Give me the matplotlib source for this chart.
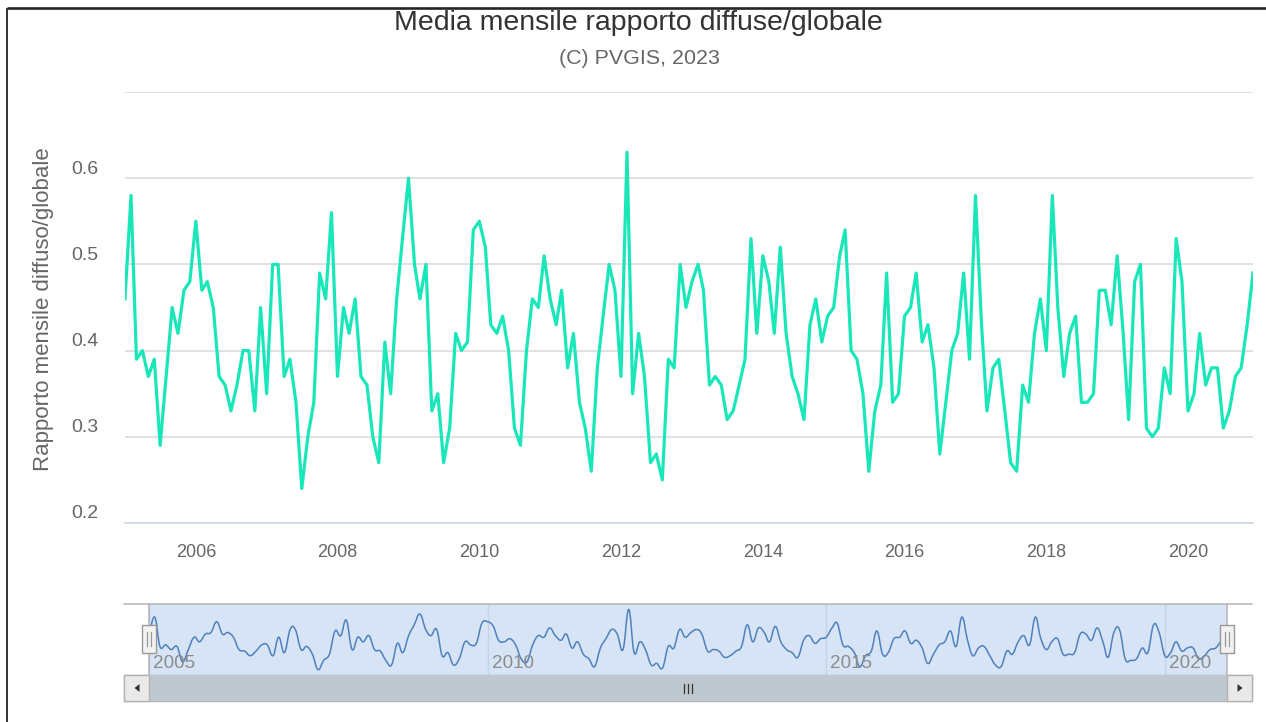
import numpy as np
import pandas as pd
import matplotlib
matplotlib.use("Agg")
import matplotlib.pyplot as plt
import matplotlib.dates as mdates
from matplotlib.path import Path
from matplotlib.patches import PathPatch, Rectangle, Polygon
from matplotlib.transforms import offset_copy, blended_transform_factory

plt.rcParams['font.family'] = ['Liberation Sans', 'DejaVu Sans']

# dati mensili 2005-01 .. 2020-12 (rapporto diffusa/globale)
anni = list(range(2005, 2021))
rapporto = [
    0.46, 0.58, 0.39, 0.40, 0.37, 0.39, 0.29, 0.37, 0.45, 0.42, 0.47, 0.48,  # 2005
    0.55, 0.47, 0.48, 0.45, 0.37, 0.36, 0.33, 0.36, 0.40, 0.40, 0.33, 0.45,  # 2006
    0.35, 0.50, 0.50, 0.37, 0.39, 0.34, 0.24, 0.30, 0.34, 0.49, 0.46, 0.56,  # 2007
    0.37, 0.45, 0.42, 0.46, 0.37, 0.36, 0.30, 0.27, 0.41, 0.35, 0.46, 0.53,  # 2008
    0.60, 0.50, 0.46, 0.50, 0.33, 0.35, 0.27, 0.31, 0.42, 0.40, 0.41, 0.54,  # 2009
    0.55, 0.52, 0.43, 0.42, 0.44, 0.40, 0.31, 0.29, 0.40, 0.46, 0.45, 0.51,  # 2010
    0.46, 0.43, 0.47, 0.38, 0.42, 0.34, 0.31, 0.26, 0.38, 0.44, 0.50, 0.47,  # 2011
    0.37, 0.63, 0.35, 0.42, 0.37, 0.27, 0.28, 0.25, 0.39, 0.38, 0.50, 0.45,  # 2012
    0.48, 0.50, 0.47, 0.36, 0.37, 0.36, 0.32, 0.33, 0.36, 0.39, 0.53, 0.42,  # 2013
    0.51, 0.48, 0.42, 0.52, 0.42, 0.37, 0.35, 0.32, 0.43, 0.46, 0.41, 0.44,  # 2014
    0.45, 0.51, 0.54, 0.40, 0.39, 0.35, 0.26, 0.33, 0.36, 0.49, 0.34, 0.35,  # 2015
    0.44, 0.45, 0.49, 0.41, 0.43, 0.38, 0.28, 0.34, 0.40, 0.42, 0.49, 0.39,  # 2016
    0.58, 0.43, 0.33, 0.38, 0.39, 0.33, 0.27, 0.26, 0.36, 0.34, 0.42, 0.46,  # 2017
    0.40, 0.58, 0.45, 0.37, 0.42, 0.44, 0.34, 0.34, 0.35, 0.47, 0.47, 0.43,  # 2018
    0.51, 0.42, 0.32, 0.48, 0.50, 0.31, 0.30, 0.31, 0.38, 0.35, 0.53, 0.48,  # 2019
    0.33, 0.35, 0.42, 0.36, 0.38, 0.38, 0.31, 0.33, 0.37, 0.38, 0.43, 0.49,  # 2020
]
date = pd.date_range('2005-01-01', periods=len(rapporto), freq='MS')

y_ticks = [0.2, 0.3, 0.4, 0.5, 0.6, 0.7]
y_labels = ['0.2', '0.3', '0.4', '0.5', '0.6']
x_tick_years = [2006, 2008, 2010, 2012, 2014, 2016, 2018, 2020]
nav_years = [2005, 2010, 2015, 2020]

titolo = 'Media mensile rapporto diffuse/globale'
sottotitolo = '(C) PVGIS, 2023'
y_titolo = 'Rapporto mensile diffuso/globale'

W, H = 1266, 722
fig = plt.figure(figsize=(W / 100, H / 100), dpi=100)


def box(x0, y0, x1, y1):
    return [x0 / W, 1 - y1 / H, (x1 - x0) / W, (y1 - y0) / H]


# grafico principale
ax = fig.add_axes(box(125, 92, 1253, 523))
ax.plot(date, rapporto, color='#19e7b9', lw=2.3, solid_joinstyle='round', zorder=3)
ax.set_xlim(date[0], date[-1])
ax.set_ylim(0.2, 0.7)
ax.set_yticks(y_ticks)
ax.yaxis.grid(True, color='#d9d9d9', lw=1.1)
ax.tick_params(axis='y', left=False, labelleft=False)
for s in ['top', 'right', 'left']:
    ax.spines[s].set_visible(False)
ax.spines['bottom'].set_color('#ccd6eb')
ax.spines['bottom'].set_linewidth(1.1)
ax.spines['bottom'].set_zorder(4)

tr = offset_copy(ax.get_yaxis_transform(), fig=fig, x=-27, y=9, units='dots')
for v, lab in zip(y_ticks, y_labels):
    ax.text(0, v, lab, transform=tr, ha='right', va='center', fontsize=14, color='#666666')

ax.set_xticks(pd.to_datetime([f'{a}-01-01' for a in x_tick_years]))
ax.set_xticklabels([str(a) for a in x_tick_years])
ax.tick_params(axis='x', length=0, pad=15, labelsize=13, labelcolor='#666666')

fig.text(638 / W, 1 - 23 / H, titolo, ha='center', va='center', fontsize=20.5, color='#333333')
fig.text(639 / W, 1 - 59 / H, sottotitolo, ha='center', va='center', fontsize=15.4, color='#666666')
fig.text(44 / W, 1 - 309 / H, y_titolo, ha='center', va='center', rotation=90,
         fontsize=16, color='#666666')

# navigatore
nav = fig.add_axes(box(149, 604, 1227, 675))
nav.set_facecolor('#d6e4f5')
nav.set_xlim(date[0], date[-1])
nav.set_ylim(0.205, 0.665)
for s in nav.spines.values():
    s.set_visible(False)
nav_ticks = pd.to_datetime([f'{a}-01-01' for a in nav_years])
nav.set_xticks(nav_ticks)
nav.xaxis.grid(True, color='#c5d4e9', lw=1)
nav.tick_params(left=False, bottom=False, labelleft=False, labelbottom=False)

# linea smussata (bezier) come nel navigatore originale
xs = mdates.date2num(date)
pts = np.column_stack([xs, rapporto])
n = len(pts)
k = 0.2
verts = [pts[0]]
codes = [Path.MOVETO]
for i in range(n - 1):
    p0 = pts[max(i - 1, 0)]
    p1 = pts[i]
    p2 = pts[i + 1]
    p3 = pts[min(i + 2, n - 1)]
    verts += [p1 + (p2 - p0) * k, p2 - (p3 - p1) * k, p2]
    codes += [Path.CURVE4] * 3
nav.add_patch(PathPatch(Path(verts, codes), fill=False, edgecolor='#4f81bd', lw=1.1, zorder=3))

trn = offset_copy(blended_transform_factory(nav.transData, nav.transAxes), fig=fig, x=4, units='dots')
for a, t in zip(nav_years, nav_ticks):
    nav.text(t, 0.16, str(a), transform=trn, ha='left', va='center', fontsize=13.6,
             color='#8c8c8c', zorder=4)

# cornice, scrollbar e maniglie (disegnati in pixel)
ov = fig.add_axes([0, 0, 1, 1])
ov.set_xlim(0, W)
ov.set_ylim(H, 0)
ov.axis('off')
ov.plot([7, W], [8, 8], color='#262626', lw=1.9, solid_capstyle='butt')
ov.plot([7, 7], [8, H], color='#333333', lw=1.4, solid_capstyle='butt')

ov.plot([124, 1252], [604, 604], color='#b3b3b3', lw=1.1)
ov.plot([149, 149], [604, 675], color='#b3b3b3', lw=1.1)
ov.plot([1227, 1227], [604, 675], color='#b3b3b3', lw=1.1)

ov.add_patch(Rectangle((124, 675), 1128, 26, facecolor='#f2f2f2', edgecolor='#b3b3b3', lw=1))
ov.add_patch(Rectangle((149, 675), 1078, 26, facecolor='#bfc7cf', edgecolor='none'))
for bx in (124, 1227):
    ov.add_patch(Rectangle((bx, 675), 25, 26, facecolor='#ebe8e8', edgecolor='#b3b3b3', lw=1))
ov.add_patch(Polygon([[139.5, 684], [139.5, 692], [134.5, 688]], facecolor='#333333', edgecolor='none'))
ov.add_patch(Polygon([[1237.5, 684], [1237.5, 692], [1242.5, 688]], facecolor='#333333', edgecolor='none'))
for gx in (684, 688, 692):
    ov.plot([gx, gx], [684, 693], color='#333333', lw=0.9)

for hx in (149, 1227):
    ov.add_patch(Rectangle((hx - 7, 625), 14, 28, facecolor='#f2f2f2', edgecolor='#999999', lw=1, zorder=5))
    for gx in (hx - 2, hx + 2):
        ov.plot([gx, gx], [632, 646], color='#999999', lw=0.9, zorder=6)

fig.savefig('out.png', dpi=100)
